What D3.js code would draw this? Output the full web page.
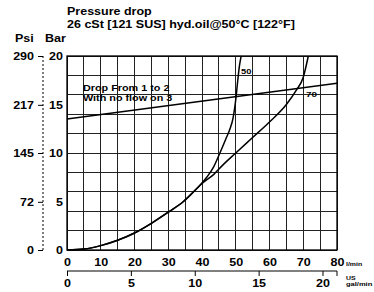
<!DOCTYPE html>
<html>
<head>
<meta charset="utf-8">
<script src="https://cdn.jsdelivr.net/npm/d3@7"></script>
<style>
  body { margin: 0; background: #fff; }
  text { font-family: "Liberation Sans", Arial, sans-serif; font-weight: bold; fill: #000; }
</style>
</head>
<body>
<div id="chart"></div>
<script>
// values (flow in l/min, pressure drop in bar)
const flowTicks = [0, 10, 20, 30, 40, 50, 60, 70, 80];
const galTicks = [0, 5, 10, 15, 20];
const barTicks = [0, 5, 10, 15, 20];
const psiTicks = [0, 72, 145, 217, 290];

const dropFlow = [0, 80];
const dropBar = [13.5, 17.2];

const curve50Flow = [0, 5, 10, 15, 20, 25, 30, 34.5, 37.5, 40, 41.4, 43.5, 45.3, 47, 48.3, 49.2, 50, 50.6, 51.1, 51.6];
const curve50Bar  = [0, 0.1, 0.45, 1.0, 1.75, 2.75, 3.9, 5.0, 6.0, 6.9, 7.5, 8.6, 10, 11.4, 12.5, 13.6, 15.5, 17.5, 19, 20];

const curve70Flow = [0, 5, 10, 15, 20, 25, 30, 34.5, 37.5, 40, 43.5, 46, 50, 55, 60, 65, 68, 70, 71, 71.5];
const curve70Bar  = [0, 0.1, 0.45, 1.0, 1.75, 2.75, 3.9, 5.0, 6.0, 6.85, 7.8, 8.7, 10, 11.6, 13.2, 15, 16.5, 17.8, 19.2, 20];

const W = 374, H = 292;
const STRETCH = 1.25;   // the original lettering is a wide grotesk

const svg = d3.select("#chart").append("svg")
  .attr("width", W).attr("height", H);

const x = d3.scaleLinear([0, 80], [67, 337]);
const y = d3.scaleLinear([0, 20], [250, 56]);
const psi = d3.scaleLinear([0, 290], [250, 56]);
const gal = d3.scaleLinear([0, 80 / 3.785], [67, 337]);

// widen text to look like the source font
function widen(sel, k) {
  sel.each(function(d) {
    const n = this.getComputedTextLength();
    const f = (d && d.k) || k || STRETCH;
    if (n > 0) d3.select(this).attr("textLength", n * f).attr("lengthAdjust", "spacingAndGlyphs");
  });
}

// grid
const grid = svg.append("g").attr("stroke", "#222").attr("stroke-width", 1).attr("shape-rendering", "crispEdges");
grid.selectAll(".v").data(x.ticks(16)).join("line")
  .attr("x1", d => x(d)).attr("x2", d => x(d))
  .attr("y1", y(0)).attr("y2", y(20));
grid.selectAll(".h").data(y.ticks(8)).join("line")
  .attr("x1", x(0)).attr("x2", x(80))
  .attr("y1", d => y(d)).attr("y2", d => y(d));
svg.append("rect")
  .attr("x", x(0)).attr("y", y(20))
  .attr("width", x(80) - x(0)).attr("height", y(0) - y(20))
  .attr("fill", "none").attr("stroke", "#000").attr("stroke-width", 1.3);

// curves
const smooth = d3.line().x(d => x(d[0])).y(d => y(d[1])).curve(d3.curveMonotoneX);
const straight = d3.line().x(d => x(d[0])).y(d => y(d[1]));
svg.append("path")
  .datum(d3.zip(dropFlow, dropBar))
  .attr("d", straight)
  .attr("fill", "none").attr("stroke", "#000").attr("stroke-width", 1.5);
svg.append("g").selectAll("path")
  .data([d3.zip(curve50Flow, curve50Bar), d3.zip(curve70Flow, curve70Bar)])
  .join("path")
  .attr("d", smooth)
  .attr("fill", "none").attr("stroke", "#000").attr("stroke-width", 1.5);

// bar axis
const barAxis = svg.append("g")
  .attr("transform", `translate(${x(0)},0)`)
  .call(d3.axisLeft(y).tickValues(barTicks).tickSize(0).tickPadding(4));
barAxis.select(".domain").remove();
barAxis.selectAll("text").attr("font-size", 10).attr("font-family", null).attr("dy", "0.35em");
widen(barAxis.selectAll("text"));

// psi axis (dotted)
const psiAxis = svg.append("g")
  .attr("transform", "translate(43,0)")
  .call(d3.axisLeft(psi).tickValues(psiTicks).tickSize(5).tickPadding(4));
psiAxis.select(".domain").attr("stroke-dasharray", "2,2").attr("d", `M0,${psi(290)}V${psi(0)}`);
psiAxis.selectAll("text").attr("font-size", 10).attr("font-family", null).attr("dy", "0.35em");
widen(psiAxis.selectAll("text"));

// flow axis l/min
const flowAxis = svg.append("g")
  .attr("transform", `translate(0,${y(0)})`)
  .call(d3.axisBottom(x).tickValues(flowTicks).tickSize(0).tickPadding(9));
flowAxis.select(".domain").remove();
flowAxis.selectAll("text").attr("font-size", 10).attr("font-family", null);
widen(flowAxis.selectAll("text"));

// flow axis US gal/min
const galAxis = svg.append("g")
  .attr("transform", "translate(0,271)")
  .call(d3.axisBottom(gal).tickValues(galTicks).tickSize(5).tickPadding(4));
galAxis.select(".domain").attr("d", `M${x(0)},0H${x(80)}V5`);
galAxis.selectAll("text").attr("font-size", 10).attr("font-family", null);
widen(galAxis.selectAll("text"));

// titles and units
const labels = [
  {t: "Pressure drop", x: 67, y: 15, s: 10},
  {t: "26 cSt [121 SUS] hyd.oil@50°C [122°F]", x: 67, y: 28, s: 10},
  {t: "Psi", x: 15, y: 42, s: 10},
  {t: "Bar", x: 45, y: 42, s: 10},
  {t: "Drop From 1 to 2", x: 83, y: 90.5, s: 9, k: 1.2},
  {t: "With no flow on 3", x: 83, y: 100.5, s: 9, k: 1.2},
  {t: "50", x: 241, y: 74, s: 7.5},
  {t: "70", x: 306, y: 96.5, s: 8},
  {t: "l/min", x: 346, y: 266, s: 6, k: 1.15},
  {t: "US", x: 346, y: 279.5, s: 6, k: 1.15},
  {t: "gal/min", x: 346, y: 285.5, s: 6, k: 1.25}
];
const lab = svg.append("g").selectAll("text").data(labels).join("text")
  .attr("x", d => d.x).attr("y", d => d.y)
  .attr("font-size", d => d.s)
  .text(d => d.t);
widen(lab);
</script>
</body>
</html>
